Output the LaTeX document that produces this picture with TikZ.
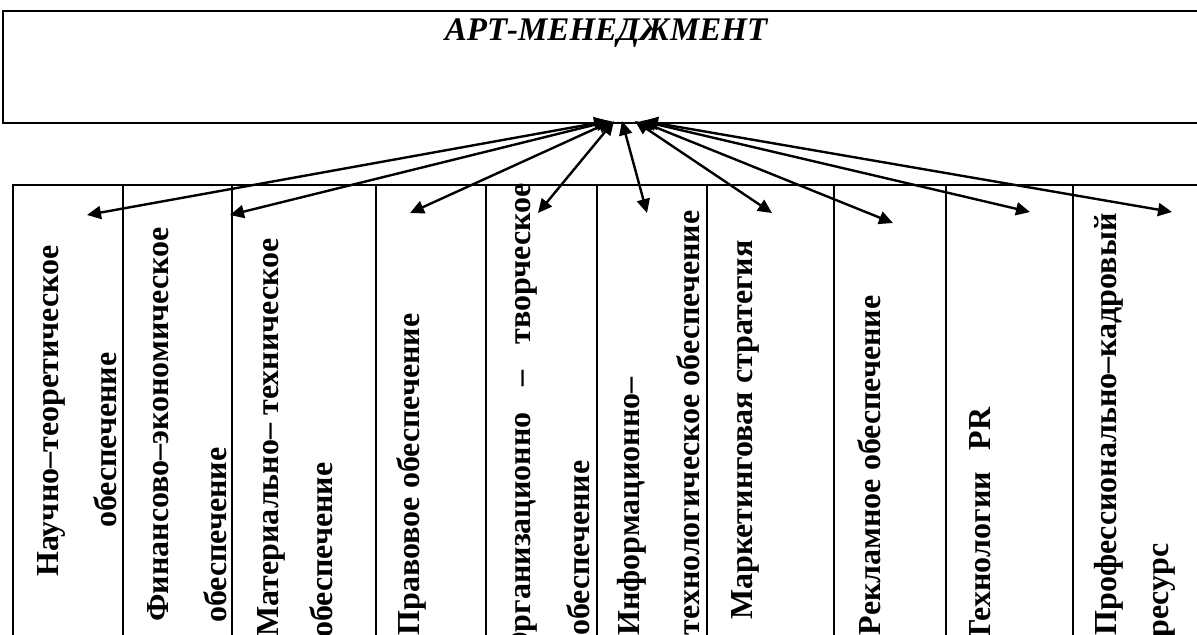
\documentclass[tikz,border=0pt]{standalone}
\usepackage{fontspec}
\setmainfont{Liberation Serif}
\usetikzlibrary{arrows.meta}

\begin{document}
\begin{tikzpicture}[
	x=0.5pt, y=-0.5pt,
	frame/.style = {line width=1.2pt},
	grid/.style = {line width=1pt},
	link/.style = {line width=1.2pt, {Triangle[length=7pt,width=6.5pt]}-{Triangle[length=7pt,width=6.5pt]}},
	label/.style = {rotate=90, anchor=base east, inner sep=0pt, font=\bfseries\fontsize{16}{16}\selectfont}]
	
	\def \tabtop {185}
	\def \boxbot {123}
	
	\useasboundingbox (0,0) rectangle (1197,634);
	\clip (0,0) rectangle (1197,634);
	
	% top box
	\draw[frame] (1210,11) -- (3,11) -- (3,\boxbot) -- (1210,\boxbot);
	\node[inner sep=0pt, anchor=base, font=\bfseries\itshape\fontsize{16.5}{17}\selectfont] (title) at (606,40) {АРТ-МЕНЕДЖМЕНТ};
	
	% table
	\draw[grid] (1210,\tabtop) -- (13,\tabtop) -- (13,650);
	\foreach \x in {123,232,376,486,597,707,834,946,1073}
	{
		\draw[grid] (\x,\tabtop) -- (\x,650);
	}
	
	% column texts
	\node[label] (c1a) at (58,245) {Научно–теоретическое};
	\node[label] (c1b) at (116,352) {обеспечение};
	\node[label] (c2a) at (168,227) {Финансово–экономическое};
	\node[label] (c2b) at (226,447) {обеспечение};
	\node[label] (c3a) at (278,238) {Материально– техническое};
	\node[label] (c3b) at (332,462) {обеспечение};
	\node[label] (c4) at (419,313) {Правовое обеспечение};
	\node[label] (c5a) at (530,183) {Организационно\hspace{13pt}–\hspace{13pt}творческое};
	\node[label] (c5b) at (589,460) {обеспечение};
	\node[label] (c6a) at (639,377) {Информационно–};
	\node[label] (c6b) at (699,210) {технологическое обеспечение};
	\node[label] (c7) at (752,240) {Маркетинговая стратегия};
	\node[label] (c8) at (880,295) {Рекламное обеспечение};
	\node[label] (c9) at (990,407) {Технологии\hspace{11pt}PR};
	\node[label] (c10a) at (1116,213) {Профессионально–кадровый};
	\node[label] (c10b) at (1168,543) {ресурс};
	
	% arrows from the hub
	\foreach \hx/\tx/\ty [count=\i] in {608/87/215, 610/230/215, 612/410/213, 614/538/213, 622/647/213, 635/772/213, 640/893/223, 642/1030/212, 644/1172/212}
	{
		\coordinate (h\i) at (\hx,121);
		\coordinate (t\i) at (\tx,\ty);
		\draw[link] (h\i) -- (t\i);
	}
\end{tikzpicture}
\end{document}
